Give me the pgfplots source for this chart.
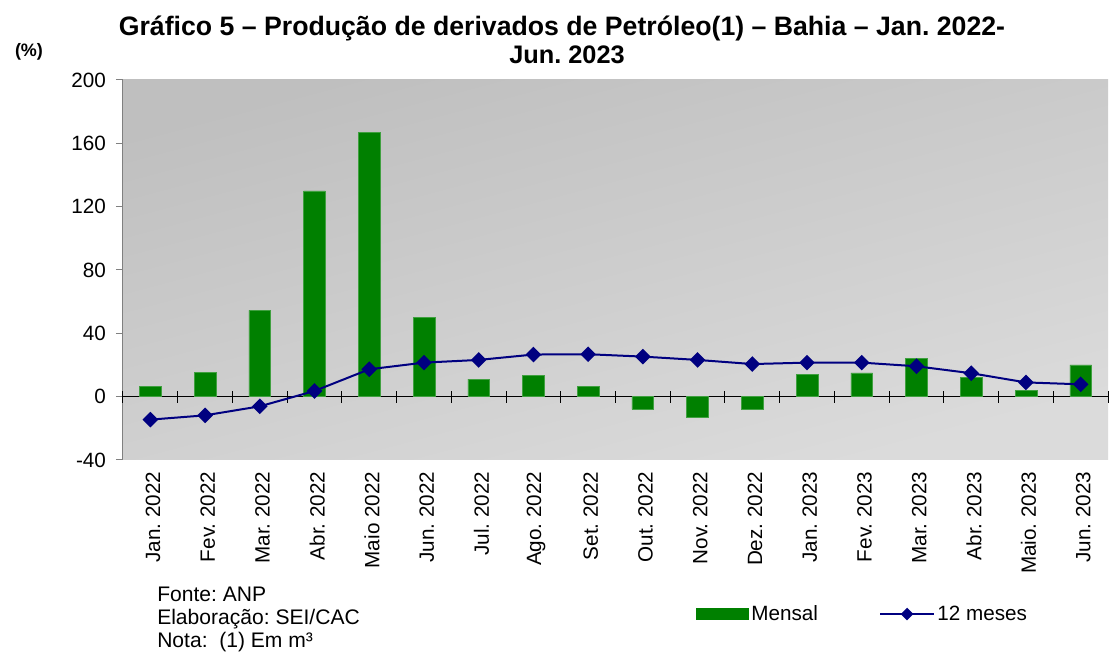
\documentclass[border=0pt]{standalone}
\usepackage{pgfplots}
\pgfplotsset{compat=1.18}
\usepackage{fontspec}
\setmainfont{Liberation Sans}
\frenchspacing
\definecolor{mgreen}{HTML}{008000}
\definecolor{mnavy}{HTML}{000080}
\pgfplotsset{
  linelegend/.style={legend image code/.code={\draw[##1, mark size=2.6pt, mark repeat=2, mark phase=2] plot coordinates {(0pt,0pt) (20pt,0pt) (40pt,0pt)};}},
  barlegend/.style={legend image code/.code={\fill[mgreen] (0pt,-4.1pt) rectangle (39pt,4.1pt);}},
}
\begin{document}
\begin{tikzpicture}
\path[use as bounding box] (-92.25pt,-144pt) rectangle (739.5pt,345pt);
\begin{axis}[
  at={(0pt,0pt)}, anchor=south west,
  scale only axis, width=738.75pt, height=285pt,
  xmin=-0.5, xmax=17.5, ymin=-40, ymax=200,
  ytick={-40,0,40,80,120,160,200},
  xtick={0,...,17},
  xticklabels={Jan. 2022,Fev. 2022,Mar. 2022,Abr. 2022,Maio 2022,Jun. 2022,Jul. 2022,Ago. 2022,Set. 2022,Out. 2022,Nov. 2022,Dez. 2022,Jan. 2023,Fev. 2023,Mar. 2023,Abr. 2023,Maio. 2023,Jun. 2023},
  xticklabel style={rotate=90, anchor=east, font=\fontsize{15.5}{18}\selectfont, yshift=-2pt},
  yticklabel style={font=\fontsize{15.5}{18}\selectfont, xshift=-4pt},
  /pgf/number format/assume math mode=true,
  axis line style={draw=none},
  ytick pos=left, xtick pos=bottom,
  tick align=outside,
  major tick length=5.25pt,
  ytick style={gray, line width=0.75pt},
  xtick style={draw=none},
  axis background/.style={shade, top color=black!25, bottom color=black!14, shading angle=15},
  legend style={draw=none, fill=none, inner sep=0pt,
    at={(axis description cs:0.5817,-0.4053)}, anchor=west,
    font=\fontsize{15.5}{18}\selectfont,
    /tikz/every even column/.append style={column sep=44pt}},
  legend columns=2,
  clip=false,
]
\draw[gray, line width=0.75pt] (rel axis cs:0,0) -- (rel axis cs:0,1);
\draw[black, line width=0.75pt] (axis cs:-0.5,0) -- (axis cs:17.5,0);
\pgfplotsinvokeforeach{-0.5,0.5,1.5,2.5,3.5,4.5,5.5,6.5,7.5,8.5,9.5,10.5,11.5,12.5,13.5,14.5,15.5,16.5,17.5}{
  \draw[black, line width=0.75pt] (axis cs:#1,0) ++(0pt,-4.5pt) -- ++(0pt,9pt);
}
\addplot[ybar, bar width=16.3pt, fill=mgreen, draw=mgreen!75!white, line width=0.4pt, barlegend]
  coordinates {(0,6.5) (1,15.5) (2,54.5) (3,130) (4,167) (5,50) (6,11) (7,13.5) (8,6.5) (9,-8) (10,-12.8) (11,-8) (12,14) (13,15) (14,24) (15,12.3) (16,4) (17,20)};
\addlegendentry{Mensal}
\addplot[mnavy, line width=1.5pt, mark=square*, mark size=3.4pt, mark options={rotate=45, solid}, linelegend]
  coordinates {(0,-14.5) (1,-11.8) (2,-6.1) (3,3.6) (4,17.3) (5,21.5) (6,23.2) (7,26.6) (8,26.8) (9,25.3) (10,23.2) (11,20.6) (12,21.5) (13,21.5) (14,19.2) (15,14.8) (16,9) (17,7.8)};
\addlegendentry{12 meses}
\end{axis}
\node[anchor=base, font=\fontsize{20}{23}\selectfont\bfseries] at (329.25pt,318pt) {Gráfico 5 – Produção de derivados de Petróleo(1) – Bahia – Jan. 2022-};
\node[anchor=base, font=\fontsize{19}{23}\selectfont\bfseries] at (333pt,297pt) {Jun. 2023};
\node[font=\fontsize{13.5}{16}\selectfont\bfseries] at (-70.5pt,306pt) {(\%)};
\node[anchor=base west, inner sep=0pt, font=\fontsize{15.8}{18}\selectfont] at (25.5pt,-106.5pt) {Fonte: ANP};
\node[anchor=base west, inner sep=0pt, font=\fontsize{15.8}{18}\selectfont] at (25.5pt,-123.4pt) {Elaboração: SEI/CAC};
\node[anchor=base west, inner sep=0pt, font=\fontsize{15.8}{18}\selectfont] at (25.5pt,-140.25pt) {Nota:\ \ (1) Em m³};
\end{tikzpicture}
\end{document}
